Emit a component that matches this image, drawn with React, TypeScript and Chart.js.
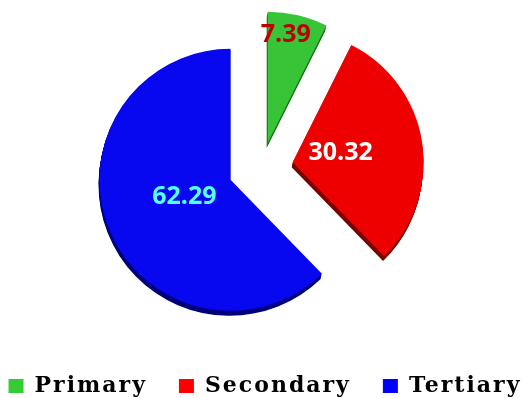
import React, { useEffect, useRef } from "react";
import { Chart, registerables } from "chart.js";

Chart.register(...registerables);

const categories = ["Primary", "Secondary", "Tertiary"];
const values = [7.39, 30.32, 62.29];

const sliceColors = ["#37c437", "#ee0000", "#0808f0"];
const sideColors = ["#1d701d", "#7a0000", "#00007a"];
const legendColors = ["#33cc33", "#ff0000", "#0000ff"];
const labelColors = ["#c00000", "#ffffff", "#55ffff"];
// pixel explode distance of each slice, along its bisector
const explodePx = [25, 31, 34];
const labelRadiusFrac = [0.835, 0.373, 0.375];
const labelAngleShiftDeg = [-3.8, -1.8, 1.8];

function geom(arc: any, i: number) {
  const { x, y, startAngle, endAngle, outerRadius } = arc.getProps(
    ["x", "y", "startAngle", "endAngle", "outerRadius"],
    true
  );
  const mid = (startAngle + endAngle) / 2;
  const dx = Math.cos(mid) * explodePx[i];
  const dy = Math.sin(mid) * explodePx[i];
  return { x, y, dx, dy, startAngle, endAngle, outerRadius, mid };
}

const explodePlugin = {
  id: "explode3d",
  beforeDatasetDraw(chart: any, args: any) {
    const ctx = chart.ctx;
    const meta = args.meta;
    meta.data.forEach((arc: any, i: number) => {
      const g = geom(arc, i);
      const cx = g.x + g.dx;
      const cy = g.y + g.dy;
      ctx.save();
      ctx.fillStyle = sideColors[i];
      for (let d = 1; d <= 5; d++) {
        const sx = -d * 0.2;
        ctx.beginPath();
        ctx.moveTo(cx + sx, cy + d);
        ctx.arc(cx + sx, cy + d, g.outerRadius, g.startAngle, g.endAngle);
        ctx.closePath();
        ctx.fill();
      }
      ctx.restore();
    });
    meta.data.forEach((arc: any, i: number) => {
      const g = geom(arc, i);
      ctx.save();
      ctx.translate(g.dx, g.dy);
      arc.draw(ctx, chart.chartArea);
      ctx.restore();
    });
    return false;
  },
};

const valueLabelPlugin = {
  id: "valueLabels",
  afterDatasetsDraw(chart: any) {
    const ctx = chart.ctx;
    const meta = chart.getDatasetMeta(0);
    const data = chart.data.datasets[0].data as number[];
    meta.data.forEach((arc: any, i: number) => {
      const g = geom(arc, i);
      const a = g.mid + (labelAngleShiftDeg[i] * Math.PI) / 180;
      const d = g.outerRadius * labelRadiusFrac[i];
      ctx.save();
      (ctx as any).letterSpacing = "0px";
      ctx.font = "bold 25px 'Open Sans'";
      ctx.fillStyle = labelColors[i];
      ctx.textAlign = "center";
      ctx.textBaseline = "middle";
      ctx.fillText(
        data[i].toFixed(2),
        g.x + g.dx + Math.cos(a) * d,
        g.y + g.dy + Math.sin(a) * d
      );
      ctx.restore();
    });
  },
};

const spacingPlugin = {
  id: "legendSpacing",
  beforeInit(chart: any) {
    (chart.ctx as any).letterSpacing = "2px";
  },
  beforeLayout(chart: any) {
    (chart.ctx as any).letterSpacing = "2px";
  },
  afterLayout(chart: any) {
    // lift the pie centre a little and nudge the legend row right
    chart.chartArea.bottom -= 9;
    chart.chartArea.height = chart.chartArea.bottom - chart.chartArea.top;
    if (chart.legend) {
      chart.legend.left += 3;
      chart.legend.right += 3;
    }
  },
  beforeDraw(chart: any) {
    (chart.ctx as any).letterSpacing = "2px";
  },
};

export default function App() {
  const ref = useRef<HTMLCanvasElement | null>(null);
  useEffect(() => {
    if (!ref.current) return;
    const chart = new Chart(ref.current, {
      type: "pie",
      data: {
        labels: categories,
        datasets: [
          {
            data: values,
            backgroundColor: sliceColors,
            borderWidth: 0,
          },
        ],
      },
      options: {
        animation: false,
        responsive: true,
        maintainAspectRatio: false,
        radius: 131,
        layout: { padding: { top: 0, bottom: -9, left: -40, right: -40 } },
        plugins: {
          tooltip: { enabled: false },
          legend: {
            position: "bottom",
            labels: {
              boxWidth: 15,
              boxHeight: 14,
              padding: 32,
              color: "#000000",
              font: { family: "'DejaVu Serif'", weight: "bold", size: 22 },
              generateLabels: () =>
                categories.map((t, i) => ({
                  text: t,
                  fillStyle: legendColors[i],
                  strokeStyle: legendColors[i],
                  lineWidth: 0,
                  hidden: false,
                  index: i,
                })),
            },
          },
        },
      },
      plugins: [spacingPlugin, explodePlugin, valueLabelPlugin],
    });
    return () => chart.destroy();
  }, []);
  return (
    <div style={{ position: "absolute", left: 0, top: 0, width: 524, height: 398, background: "#fff" }}>
      <canvas ref={ref} />
    </div>
  );
}
